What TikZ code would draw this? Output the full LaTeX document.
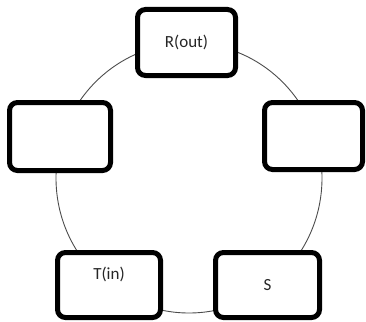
\documentclass[tikz,border=0pt]{standalone}
\usepackage{fontspec}
\setmainfont{Carlito}
\tikzset{
  box/.style  = {draw, line width=5pt, rounded corners=8pt, fill=white,
                 inner sep=0pt, font=\fontsize{17}{20}\selectfont, text=black!85},
  ring/.style = {black!70, line width=0.9pt},
}

\begin{document}
\begin{tikzpicture}[x=1pt, y=-1pt]
        \useasboundingbox (0,0) rectangle (366,321);
        \coordinate (C) at (189,178);
        \draw[ring] (C) ellipse [x radius=133pt, y radius=135pt];
        \node[box, minimum width=98pt,  minimum height=66pt] (rout)  at (186.5,42.5) {R(out)};
        \node[box, minimum width=101pt, minimum height=68pt] (left)  at (60,136.5)   {};
        \node[box, minimum width=98pt,  minimum height=67pt] (right) at (313.5,136)  {};
        \node[box, minimum width=103pt, minimum height=65pt, text depth=24pt] (tin) at (109,285) {T(in)};
        \node[box, minimum width=104pt, minimum height=65pt] (s)     at (267.5,285)  {S};
\end{tikzpicture}
\end{document}
